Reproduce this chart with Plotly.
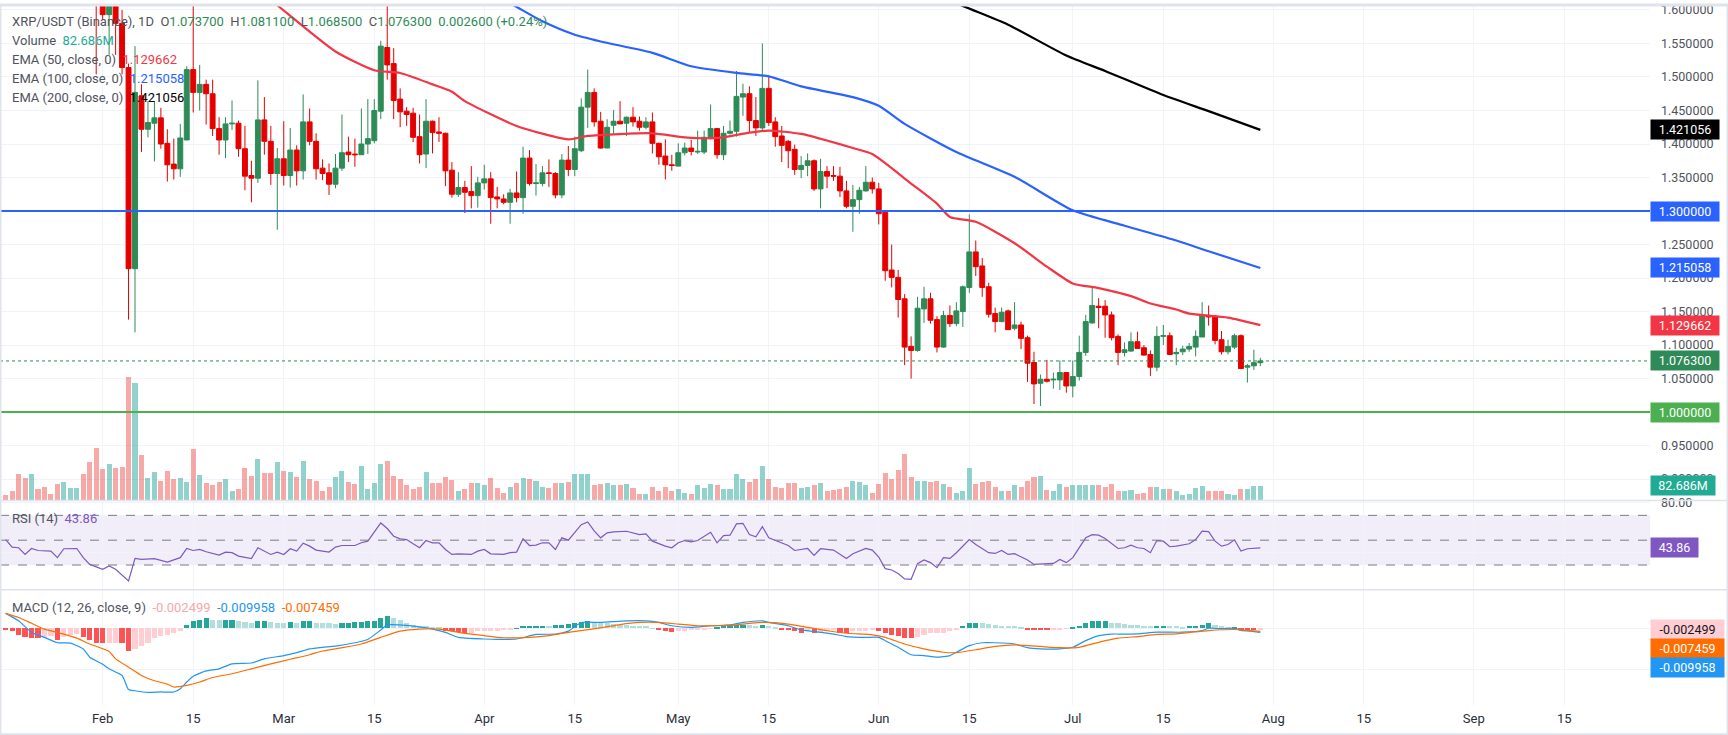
import numpy as np
import pandas as pd
import plotly.graph_objects as go

# ---------------- data (XRP/USDT 1D, Binance) ----------------
YEAR = "2025-"
dates = pd.date_range("2025-01-17", "2025-07-30", freq="D")

opens = [
    1.975, 1.950, 1.920, 1.880, 1.840, 1.870, 1.840, 1.810, 1.800, 1.775, 1.800, 1.820, 1.840, 1.790, 1.730,
    1.680, 1.593, 1.650, 1.580, 1.514, 1.214, 1.472, 1.422, 1.431, 1.439, 1.401, 1.370, 1.363, 1.406, 1.511,
    1.477, 1.489, 1.475, 1.423, 1.406, 1.430, 1.431, 1.393, 1.353, 1.349, 1.436, 1.404, 1.356,
    1.378, 1.353, 1.391, 1.360, 1.433, 1.404, 1.364, 1.357, 1.340, 1.364, 1.388, 1.385, 1.384, 1.400, 1.405,
    1.449, 1.544, 1.520, 1.467, 1.449, 1.446, 1.411, 1.385, 1.434, 1.418, 1.416, 1.361, 1.325, 1.335, 1.329, 1.323,
    1.342, 1.348, 1.321, 1.318, 1.313, 1.327, 1.320, 1.379, 1.341, 1.341, 1.357, 1.356, 1.324, 1.376, 1.362,
    1.390, 1.455, 1.477, 1.434, 1.394, 1.428, 1.434, 1.431, 1.440, 1.434, 1.425, 1.433, 1.401, 1.382, 1.369,
    1.367, 1.387, 1.394, 1.388, 1.388, 1.408, 1.423, 1.384, 1.416, 1.419, 1.470, 1.475, 1.435, 1.424, 1.483,
    1.433, 1.412, 1.404, 1.392, 1.362, 1.368, 1.375, 1.333, 1.359, 1.353, 1.352, 1.330, 1.307, 1.317, 1.330, 1.343,
    1.333, 1.298, 1.212, 1.201, 1.169, 1.098, 1.092, 1.154, 1.169, 1.138, 1.097, 1.144, 1.132, 1.150, 1.186,
    1.239, 1.218, 1.187, 1.147, 1.135, 1.151, 1.125, 1.130, 1.111, 1.074, 1.043, 1.049, 1.048, 1.048, 1.059,
    1.039, 1.053, 1.089, 1.133, 1.158, 1.158, 1.145, 1.113, 1.089, 1.091, 1.105, 1.096, 1.086, 1.067, 1.113,
    1.114, 1.087, 1.090, 1.094, 1.097, 1.112, 1.144, 1.143, 1.108, 1.090, 1.097, 1.114, 1.067, 1.069, 1.0737,
]
highs = [
    1.990, 1.965, 1.935, 1.900, 1.890, 1.880, 1.850, 1.830, 1.815, 1.810, 1.835, 1.850, 1.845, 1.800, 1.745,
    1.700, 1.680, 1.670, 1.600, 1.520, 1.546, 1.489, 1.464, 1.464, 1.454, 1.422, 1.408, 1.430, 1.516, 1.625,
    1.518, 1.496, 1.496, 1.440, 1.440, 1.465, 1.435, 1.427, 1.375, 1.495, 1.470, 1.427, 1.394,
    1.434, 1.424, 1.398, 1.474, 1.453, 1.416, 1.377, 1.371, 1.385, 1.444, 1.411, 1.408, 1.453, 1.467, 1.467,
    1.554, 1.620, 1.543, 1.483, 1.455, 1.454, 1.444, 1.467, 1.435, 1.440, 1.417, 1.373, 1.358, 1.345, 1.367, 1.351,
    1.369, 1.358, 1.336, 1.325, 1.333, 1.359, 1.396, 1.391, 1.370, 1.367, 1.377, 1.358, 1.385, 1.397, 1.411,
    1.468, 1.511, 1.483, 1.448, 1.437, 1.451, 1.464, 1.441, 1.455, 1.441, 1.440, 1.447, 1.402, 1.407, 1.384,
    1.401, 1.402, 1.406, 1.420, 1.420, 1.459, 1.424, 1.427, 1.435, 1.509, 1.490, 1.486, 1.470, 1.550, 1.502,
    1.440, 1.427, 1.406, 1.399, 1.382, 1.386, 1.377, 1.378, 1.367, 1.367, 1.366, 1.345, 1.339, 1.336, 1.367, 1.350,
    1.342, 1.298, 1.250, 1.212, 1.176, 1.113, 1.172, 1.187, 1.178, 1.143, 1.151, 1.159, 1.164, 1.189, 1.295,
    1.256, 1.230, 1.193, 1.156, 1.156, 1.153, 1.164, 1.135, 1.114, 1.090, 1.056, 1.078, 1.059, 1.077, 1.059,
    1.077, 1.114, 1.145, 1.187, 1.170, 1.167, 1.150, 1.116, 1.104, 1.119, 1.120, 1.100, 1.092, 1.128, 1.130,
    1.119, 1.096, 1.099, 1.103, 1.122, 1.164, 1.159, 1.145, 1.121, 1.108, 1.117, 1.116, 1.072, 1.093, 1.0811,
]
lows = [
    1.935, 1.905, 1.860, 1.820, 1.825, 1.830, 1.800, 1.790, 1.760, 1.765, 1.785, 1.805, 1.780, 1.715, 1.504,
    1.585, 1.533, 1.533, 1.504, 1.138, 1.119, 1.388, 1.410, 1.374, 1.393, 1.344, 1.347, 1.351, 1.406, 1.447,
    1.450, 1.429, 1.412, 1.384, 1.379, 1.421, 1.381, 1.331, 1.313, 1.342, 1.384, 1.339, 1.272,
    1.338, 1.335, 1.338, 1.347, 1.398, 1.347, 1.346, 1.324, 1.334, 1.360, 1.373, 1.366, 1.384, 1.385, 1.401,
    1.437, 1.496, 1.437, 1.425, 1.427, 1.403, 1.371, 1.364, 1.386, 1.403, 1.337, 1.320, 1.321, 1.297, 1.304, 1.305,
    1.332, 1.281, 1.304, 1.310, 1.281, 1.313, 1.296, 1.338, 1.323, 1.337, 1.336, 1.319, 1.319, 1.352, 1.352,
    1.388, 1.424, 1.426, 1.393, 1.394, 1.415, 1.430, 1.412, 1.426, 1.420, 1.422, 1.386, 1.369, 1.347, 1.360,
    1.367, 1.383, 1.383, 1.385, 1.385, 1.407, 1.378, 1.376, 1.414, 1.411, 1.442, 1.418, 1.412, 1.419, 1.427,
    1.396, 1.373, 1.364, 1.354, 1.349, 1.352, 1.330, 1.304, 1.334, 1.345, 1.321, 1.304, 1.269, 1.296, 1.329, 1.326,
    1.280, 1.196, 1.186, 1.141, 1.070, 1.050, 1.090, 1.133, 1.132, 1.089, 1.096, 1.127, 1.128, 1.127, 1.178,
    1.203, 1.172, 1.141, 1.119, 1.134, 1.123, 1.122, 1.094, 1.045, 1.012, 1.009, 1.044, 1.035, 1.033, 1.029,
    1.022, 1.047, 1.084, 1.132, 1.125, 1.111, 1.107, 1.070, 1.083, 1.090, 1.095, 1.084, 1.054, 1.061, 1.100,
    1.085, 1.070, 1.085, 1.090, 1.083, 1.112, 1.129, 1.101, 1.086, 1.086, 1.094, 1.064, 1.044, 1.063, 1.0685,
]
closes = [
    1.950, 1.920, 1.880, 1.840, 1.870, 1.840, 1.810, 1.800, 1.775, 1.800, 1.820, 1.840, 1.790, 1.730, 1.680,
    1.593, 1.650, 1.580, 1.514, 1.214, 1.477, 1.422, 1.432, 1.439, 1.400, 1.369, 1.363, 1.409, 1.511, 1.477,
    1.489, 1.475, 1.423, 1.406, 1.430, 1.431, 1.393, 1.352, 1.349, 1.436, 1.404, 1.356, 1.378,
    1.353, 1.391, 1.360, 1.433, 1.404, 1.363, 1.356, 1.340, 1.364, 1.387, 1.384, 1.384, 1.400, 1.408, 1.450,
    1.546, 1.518, 1.465, 1.448, 1.444, 1.410, 1.384, 1.434, 1.417, 1.416, 1.360, 1.325, 1.335, 1.328, 1.323, 1.342,
    1.348, 1.320, 1.318, 1.313, 1.327, 1.320, 1.379, 1.341, 1.342, 1.357, 1.356, 1.324, 1.376, 1.362, 1.393,
    1.455, 1.477, 1.433, 1.394, 1.425, 1.434, 1.430, 1.440, 1.433, 1.425, 1.433, 1.401, 1.381, 1.369, 1.368,
    1.387, 1.394, 1.389, 1.389, 1.410, 1.423, 1.384, 1.416, 1.419, 1.471, 1.475, 1.435, 1.424, 1.483, 1.432,
    1.411, 1.398, 1.390, 1.362, 1.368, 1.375, 1.333, 1.359, 1.352, 1.352, 1.330, 1.307, 1.317, 1.331, 1.343, 1.333,
    1.296, 1.211, 1.201, 1.168, 1.097, 1.092, 1.155, 1.169, 1.137, 1.097, 1.144, 1.132, 1.151, 1.187, 1.239,
    1.217, 1.186, 1.146, 1.135, 1.149, 1.123, 1.130, 1.110, 1.073, 1.042, 1.049, 1.046, 1.049, 1.059, 1.039,
    1.053, 1.089, 1.135, 1.159, 1.156, 1.145, 1.111, 1.089, 1.093, 1.105, 1.095, 1.085, 1.067, 1.113, 1.114,
    1.086, 1.089, 1.094, 1.098, 1.113, 1.144, 1.142, 1.107, 1.090, 1.098, 1.114, 1.065, 1.069, 1.0737, 1.0763,
]
# volume in millions
volumes = [
    31, 50, 145, 123, 145, 62, 77, 35, 90, 101, 68, 68, 145, 211, 292,
    172, 204, 178, 183, 683, 650, 255, 123, 160, 110, 165, 117, 123, 105, 283,
    139, 95, 87, 105, 121, 55, 62, 178, 134, 231, 154, 154, 215,
    164, 160, 128, 220, 117, 110, 50, 77, 128, 165, 105, 90, 193, 62, 95,
    204, 220, 134, 117, 87, 62, 77, 160, 99, 95, 128, 114, 55, 62, 99, 99,
    87, 127, 68, 44, 72, 99, 127, 121, 109, 77, 68, 99, 99, 105, 149,
    149, 149, 87, 90, 99, 84, 84, 90, 68, 35, 37, 73, 55, 73, 55,
    62, 40, 37, 84, 68, 94, 84, 66, 62, 149, 117, 105, 121, 193, 121,
    72, 68, 99, 99, 68, 77, 84, 99, 55, 59, 62, 77, 110, 105, 84, 44,
    90, 154, 121, 171, 259, 132, 110, 110, 105, 110, 94, 72, 44, 53, 182,
    94, 105, 110, 72, 50, 50, 84, 77, 110, 131, 138, 59, 50, 94, 77,
    87, 87, 84, 87, 84, 77, 90, 50, 53, 59, 37, 40, 72, 77, 66,
    61, 55, 28, 35, 68, 83, 55, 55, 50, 35, 28, 61, 61, 83, 82.686,
]

ema50_days = ["02-20", "02-28", "03-09", "03-15", "03-19", "03-24", "03-27", "03-29", "04-06", "04-14",
              "04-17", "04-27", "05-02", "05-07", "05-12", "05-15", "05-20", "05-28", "05-31", "06-06",
              "06-10", "06-12", "06-16", "06-22", "06-27", "07-01", "07-05", "07-10", "07-13", "07-17",
              "07-19", "07-25", "07-30"]
ema50_vals = [1.670, 1.607, 1.538, 1.510, 1.506, 1.489, 1.478, 1.464, 1.427, 1.407,
              1.412, 1.416, 1.410, 1.409, 1.417, 1.420, 1.415, 1.394, 1.385, 1.341,
              1.311, 1.291, 1.284, 1.252, 1.217, 1.192, 1.185, 1.173, 1.162, 1.153,
              1.147, 1.141, 1.129662]
ema100_days = ["03-25", "04-05", "04-10", "04-15", "04-19", "04-27", "05-03", "05-10", "05-15", "05-20",
               "05-28", "06-01", "06-05", "06-13", "06-22", "07-01", "07-09", "07-17", "07-22", "07-30"]
ema100_vals = [1.665, 1.610, 1.583, 1.563, 1.553, 1.536, 1.516, 1.506, 1.501, 1.486,
               1.470, 1.457, 1.430, 1.388, 1.351, 1.301, 1.278, 1.256, 1.240, 1.215058]
ema200_days = ["06-05", "06-14", "06-21", "06-30", "07-06", "07-15", "07-22", "07-30"]
ema200_vals = [1.644, 1.606, 1.578, 1.532, 1.509, 1.473, 1.449, 1.421056]

rsi_days = [
    "01-17", "01-18", "01-19", "01-20", "01-21", "01-22", "01-24", "01-25", "01-26", "01-28", "01-29", "01-30",
    "02-01", "02-02", "02-03", "02-05", "02-06", "02-07", "02-09", "02-10", "02-11", "02-13", "02-14", "02-15",
    "02-16", "02-17", "02-19", "02-20", "02-21", "02-22", "02-24", "02-25", "02-26", "02-27", "02-28",
    "03-01", "03-02", "03-03", "03-04", "03-05", "03-06", "03-08", "03-09", "03-10", "03-12", "03-13", "03-14",
    "03-16", "03-17", "03-18", "03-19", "03-20", "03-21", "03-22", "03-23", "03-24", "03-25", "03-26", "03-27",
    "03-28", "03-30", "03-31",
    "04-01", "04-02", "04-04", "04-05", "04-06", "04-07", "04-08", "04-09", "04-10", "04-11", "04-12", "04-13",
    "04-14", "04-15", "04-16", "04-17", "04-18", "04-19", "04-20", "04-21", "04-23", "04-25", "04-26", "04-27",
    "04-29", "04-30",
    "05-01", "05-02", "05-03", "05-04", "05-05", "05-06", "05-07", "05-08", "05-09", "05-10", "05-11", "05-12",
    "05-13", "05-14", "05-15", "05-16", "05-17", "05-18", "05-19", "05-21", "05-22", "05-23", "05-25", "05-26",
    "05-27", "05-28", "05-30", "05-31",
    "06-01", "06-02", "06-03", "06-04", "06-05", "06-06", "06-07", "06-08", "06-09", "06-10", "06-11", "06-12",
    "06-13", "06-15", "06-16", "06-18", "06-19", "06-20", "06-21", "06-22", "06-24", "06-25", "06-27", "06-28",
    "06-29", "06-30",
    "07-01", "07-02", "07-03", "07-04", "07-05", "07-06", "07-07", "07-08", "07-09", "07-10", "07-11", "07-12",
    "07-13", "07-14", "07-15", "07-16", "07-17", "07-19", "07-20", "07-21", "07-22", "07-23", "07-24", "07-25",
    "07-26", "07-27", "07-28", "07-30",
]
rsi_vals = [
    50.5, 44.4, 43.9, 38.5, 43.3, 41.7, 41.2, 35.9, 43.1, 43.3, 35.9, 30.5,
    26.5, 29.2, 26.5, 17.2, 35.3, 34.5, 35.1, 33.7, 32.4, 35.9, 43.3, 41.7,
    42.5, 40.7, 38.0, 40.4, 39.9, 37.2, 35.1, 43.9, 41.2, 38.5, 40.4,
    38.5, 43.1, 41.2, 47.6, 45.2, 42.0, 40.4, 44.4, 45.7, 45.7, 47.9, 49.2,
    63.9, 59.4, 53.2, 51.1, 50.5, 47.1, 43.9, 49.7, 47.9, 47.9, 42.5, 38.5,
    39.0, 38.5, 41.2,
    42.5, 39.0, 38.5, 39.9, 40.4, 51.1, 45.7, 46.0, 47.9, 47.9, 42.5, 51.9,
    50.0, 55.9, 62.5, 64.7, 57.5, 51.9, 55.9, 56.7, 57.2, 54.5, 55.1, 49.2,
    45.2, 43.9,
    47.9, 49.7, 48.7, 49.7, 53.2, 56.4, 47.9, 53.7, 54.0, 63.1, 63.6, 54.5,
    52.7, 60.9, 51.9, 49.7, 47.9, 45.7, 41.7, 43.3, 37.7, 43.1, 42.0, 38.5,
    35.3, 39.1, 43.3, 42.0,
    36.4, 27.1, 26.0, 23.1, 18.8, 18.5, 31.1, 34.0, 31.9, 27.9, 35.9, 35.3,
    39.9, 50.5, 46.5, 39.9, 39.3, 41.7, 38.5, 39.1, 34.0, 30.5, 31.1, 31.3,
    34.5, 31.9,
    35.9, 43.9, 51.9, 54.5, 54.0, 51.3, 47.1, 43.3, 43.9, 46.0, 43.9, 43.3,
    39.9, 49.7, 49.2, 44.7, 45.2, 47.1, 50.5, 57.2, 56.9, 49.2, 45.2, 46.5,
    50.3, 41.2, 43.1, 43.86,
]

macd_days = ["01-17", "01-19", "01-21", "01-23", "01-25", "01-27", "01-29", "01-30", "02-01", "02-02",
             "02-04", "02-05", "02-06", "02-08", "02-10", "02-12", "02-13", "02-14", "02-15", "02-17",
             "02-19", "02-21", "02-24", "02-26", "03-01", "03-03", "03-05", "03-07", "03-09", "03-12",
             "03-14", "03-16", "03-17", "03-19", "03-21", "03-24", "03-26", "03-28", "04-01", "04-03",
             "04-06", "04-09", "04-12", "04-14", "04-16", "04-19", "04-23", "04-26", "04-28", "04-30",
             "05-03", "05-06", "05-09", "05-11", "05-14", "05-15", "05-18", "05-20", "05-23", "05-25",
             "05-27", "05-30", "06-01", "06-02", "06-04", "06-06", "06-08", "06-10", "06-12", "06-13",
             "06-15", "06-17", "06-19", "06-22", "06-24", "06-26", "06-29", "07-01", "07-03", "07-05",
             "07-07", "07-09", "07-11", "07-14", "07-18", "07-21", "07-22", "07-24", "07-26", "07-27",
             "07-29", "07-30"]
macd_vals = [0.036, 0.018, -0.010, -0.022, -0.035, -0.036, -0.050, -0.070, -0.087, -0.098,
             -0.114, -0.148, -0.151, -0.155, -0.154, -0.154, -0.146, -0.130, -0.116, -0.103,
             -0.098, -0.086, -0.084, -0.074, -0.066, -0.059, -0.050, -0.046, -0.043, -0.035,
             -0.027, -0.004, 0.008, 0.008, 0.005, -0.002, -0.010, -0.022, -0.026, -0.027,
             -0.026, -0.015, -0.014, -0.007, 0.014, 0.014, 0.018, 0.018, 0.014, 0.006,
             0.002, 0.006, 0.008, 0.014, 0.018, 0.014, 0.006, -0.004, -0.010, -0.014,
             -0.020, -0.022, -0.022, -0.030, -0.046, -0.064, -0.066, -0.070, -0.066, -0.058,
             -0.042, -0.035, -0.035, -0.038, -0.047, -0.050, -0.050, -0.046, -0.030, -0.018,
             -0.014, -0.014, -0.0135, -0.0095, -0.0095, -0.0055, 0.000, -0.001, 0.000, -0.005,
             -0.008, -0.009958]
signal_days = ["01-17", "01-19", "01-21", "01-23", "01-26", "01-28", "01-30", "02-02", "02-03", "02-05",
               "02-07", "02-09", "02-11", "02-12", "02-14", "02-16", "02-18", "02-21", "02-24", "02-27",
               "03-02", "03-05", "03-07", "03-10", "03-13", "03-16", "03-19", "03-22", "03-25", "03-28",
               "04-01", "04-04", "04-08", "04-11", "04-14", "04-19", "04-22", "04-25", "04-28", "05-01",
               "05-04", "05-07", "05-10", "05-12", "05-15", "05-18", "05-21", "05-24", "05-27", "05-31",
               "06-02", "06-05", "06-08", "06-11", "06-13", "06-16", "06-19", "06-22", "06-26", "06-29",
               "07-02", "07-05", "07-08", "07-11", "07-14", "07-17", "07-22", "07-26", "07-28", "07-30"]
signal_vals = [0.036, 0.026, 0.012, -0.002, -0.014, -0.024, -0.038, -0.056, -0.074, -0.094,
               -0.114, -0.127, -0.135, -0.142, -0.138, -0.130, -0.119, -0.110, -0.098, -0.086,
               -0.075, -0.064, -0.055, -0.047, -0.038, -0.022, -0.007, -0.002, -0.002, -0.010,
               -0.018, -0.023, -0.022, -0.018, -0.010, 0.001, 0.009, 0.014, 0.014, 0.010,
               0.006, 0.006, 0.008, 0.012, 0.014, 0.010, 0.002, -0.006, -0.012, -0.016,
               -0.022, -0.038, -0.050, -0.058, -0.059, -0.052, -0.044, -0.040, -0.044, -0.047,
               -0.046, -0.034, -0.024, -0.020, -0.015, -0.0135, -0.0055, -0.003, -0.005, -0.007459]
# daily MACD histogram
hist_vals = [
    -0.004, -0.007, -0.016, -0.021, -0.023, -0.024, -0.022, -0.018, -0.027, -0.020, -0.016, -0.014, -0.020,
    -0.028, -0.035, -0.036, -0.035, -0.034, -0.036, -0.055, -0.050, -0.042, -0.034, -0.023, -0.018, -0.016,
    -0.012, -0.006,
    0.009, 0.018, 0.021, 0.026, 0.021, 0.020, 0.021, 0.0215, 0.018, 0.016, 0.014, 0.017, 0.018, 0.016,
    0.014, 0.0135, 0.016, 0.014, 0.018, 0.0185, 0.014, 0.013, 0.012, 0.0115, 0.013, 0.014, 0.0145, 0.016,
    0.017, 0.018, 0.026, 0.029, 0.026, 0.021, 0.014, 0.008, 0.006, 0.005, 0.0045, 0.004,
    -0.006, -0.007, -0.008, -0.0105, -0.010, -0.007, -0.0068, -0.006, -0.0058, -0.004, -0.0038, 0.001,
    0.005, 0.0052, 0.006, 0.0062, 0.006, 0.009, 0.0092, 0.010, 0.012,
    0.016, 0.018, 0.014, 0.013, 0.012, 0.0115, 0.009, 0.0085, 0.006, 0.0055, 0.005, 0.001, -0.004, -0.006,
    -0.008, -0.007, -0.006, -0.0045, -0.004, -0.002, -0.0005, 0.002, 0.005, 0.008, 0.009, 0.0095, 0.008,
    0.006, 0.009, 0.006, 0.002,
    -0.002, -0.004, -0.007, -0.010, -0.007, -0.011, -0.010, -0.007, -0.004, -0.010, -0.0105, -0.007,
    -0.0068, -0.006, -0.004, -0.007, -0.012, -0.016, -0.018, -0.022, -0.023, -0.020, -0.015, -0.012,
    -0.011, -0.010, -0.007, -0.004,
    0.005, 0.013, 0.014, 0.0138, 0.010, 0.009, 0.0065, 0.006, 0.005, 0.002, -0.002, -0.004, -0.0042,
    -0.0044, -0.004, -0.002, -0.0005, 0.002, 0.005, 0.012, 0.017, 0.018, 0.0182, 0.014, 0.013, 0.010,
    0.009, 0.008,
    0.006, 0.005, 0.006, 0.007, 0.006, 0.005, 0.004, 0.005, 0.007, 0.009, 0.012, 0.009, 0.006, 0.004,
    0.0045, -0.004, -0.0042, -0.0045, -0.002499,
]

level_blue = 1.30
level_green = 1.00

tick_days = ["2025-02-01", "2025-02-15", "2025-03-01", "2025-03-15", "2025-04-01", "2025-04-15",
             "2025-05-01", "2025-05-15", "2025-06-01", "2025-06-15", "2025-07-01", "2025-07-15",
             "2025-08-01", "2025-08-15", "2025-09-01", "2025-09-15"]
tick_names = ["Feb", "15", "Mar", "15", "Apr", "15", "May", "15", "Jun", "15", "Jul", "15",
              "Aug", "15", "Sep", "15"]

# ---------------- styling ----------------
UP = "#2e8b57"
DOWN = "#e50000"
VOL_UP = "rgba(38,166,154,0.5)"
VOL_DN = "rgba(239,83,80,0.5)"
EMA50_C = "#f23645"
EMA100_C = "#2962ff"
EMA200_C = "#000000"
RSI_C = "#7e57c2"
MACD_C = "#2196f3"
SIG_C = "#ff6d00"
GRID = "#f0f3fa"
TXT = "#50535e"
FONT = "Roboto, Arial, sans-serif"
DAY = 86400000

W, H = 1728, 735
ML, MR, MT, MB = 0, 78, 0, 30
PH = H - MT - MB
main_dom = [1 - 499 / PH, 1.0]
rsi_dom = [1 - 589 / PH, 1 - 499 / PH]
macd_dom = [0.0, 1 - 589 / PH]
x_right = (W - ML) / (W - ML - MR)


def full(days):
    return [YEAR + d for d in days]


fig = go.Figure()

vol_colors = [VOL_UP if c >= o else VOL_DN for o, c in zip(opens, closes)]
fig.add_trace(go.Bar(x=dates, y=volumes, marker_color=vol_colors, marker_line_width=0,
                     width=DAY * 0.78, xaxis="x", yaxis="y", hoverinfo="skip"))

fig.add_trace(go.Candlestick(
    x=dates, open=opens, high=highs, low=lows, close=closes, xaxis="x", yaxis="y2",
    increasing=dict(line=dict(color=UP, width=1), fillcolor=UP),
    decreasing=dict(line=dict(color=DOWN, width=1), fillcolor=DOWN),
    whiskerwidth=0, hoverinfo="skip"))

for d, v, c in [(ema50_days, ema50_vals, EMA50_C), (ema100_days, ema100_vals, EMA100_C),
                (ema200_days, ema200_vals, EMA200_C)]:
    fig.add_trace(go.Scatter(x=full(d), y=v, mode="lines", xaxis="x", yaxis="y2",
                             line=dict(color=c, width=2.2, shape="spline", smoothing=0.6),
                             hoverinfo="skip"))

fig.add_trace(go.Scatter(x=full(rsi_days), y=rsi_vals, mode="lines", xaxis="x", yaxis="y3",
                         line=dict(color=RSI_C, width=1.2), hoverinfo="skip"))

hist_colors = []
for i, h in enumerate(hist_vals):
    prev = hist_vals[i - 1] if i else h
    if h >= 0:
        hist_colors.append("#26a69a" if h > prev else "#b2dfdb")
    else:
        hist_colors.append("#ffcdd2" if h > prev else "#ff5252")
fig.add_trace(go.Bar(x=dates, y=hist_vals, marker_color=hist_colors, marker_line_width=0,
                     width=DAY * 0.8, xaxis="x", yaxis="y4", hoverinfo="skip"))
fig.add_trace(go.Scatter(x=full(macd_days), y=macd_vals, mode="lines", xaxis="x", yaxis="y4",
                         line=dict(color=MACD_C, width=1.2, shape="spline", smoothing=0.5),
                         hoverinfo="skip"))
fig.add_trace(go.Scatter(x=full(signal_days), y=signal_vals, mode="lines", xaxis="x", yaxis="y4",
                         line=dict(color=SIG_C, width=1.2, shape="spline", smoothing=0.5),
                         hoverinfo="skip"))

# ---------------- shapes ----------------
shapes = [
    dict(type="rect", xref="paper", x0=0, x1=1, yref="y3", y0=30, y1=70,
         fillcolor="rgba(126,87,194,0.1)", line_width=0, layer="below"),
]
for lvl in (70, 50, 30):
    shapes.append(dict(type="line", xref="paper", x0=0, x1=1, yref="y3", y0=lvl, y1=lvl,
                       line=dict(color="#787b86", width=1, dash="dash"), layer="above"))
shapes += [
    dict(type="line", xref="paper", x0=0, x1=1, yref="y2", y0=level_blue, y1=level_blue,
         line=dict(color="#2962ff", width=2), layer="above"),
    dict(type="line", xref="paper", x0=0, x1=1, yref="y2", y0=level_green, y1=level_green,
         line=dict(color="#4caf50", width=2), layer="above"),
    dict(type="line", xref="paper", x0=0, x1=1, yref="y2", y0=closes[-1], y1=closes[-1],
         line=dict(color=UP, width=1, dash="dot"), layer="above"),
    dict(type="line", xref="paper", x0=0, x1=x_right, yref="paper", y0=main_dom[0], y1=main_dom[0],
         line=dict(color="#e0e3eb", width=1.5), layer="above"),
    dict(type="line", xref="paper", x0=0, x1=x_right, yref="paper", y0=rsi_dom[0], y1=rsi_dom[0],
         line=dict(color="#e0e3eb", width=1.5), layer="above"),
    dict(type="rect", xref="paper", x0=0, x1=x_right, yref="paper", y0=-MB / PH, y1=1,
         line=dict(color="#e0e3eb", width=3), layer="above"),
]

# ---------------- annotations ----------------
ann = []


def legend_line(text, ypx, xpx=10):
    ann.append(dict(xref="paper", yref="paper", x=xpx / (W - MR), y=1 - ypx / PH, xanchor="left",
                    yanchor="middle", text=text, showarrow=False, font=dict(size=13, color=TXT, family=FONT)))


def col(v, c):
    return f'<span style="color:{c}">{v}</span>'


chg = closes[-1] - closes[-2]
pct = chg / closes[-2] * 100
sp = "&nbsp;&nbsp;"
legend_line("XRP/USDT (Binance), 1D" + sp + "O" + col(f"{opens[-1]:.6f}", UP) + sp + "H" + col(f"{highs[-1]:.6f}", UP)
            + sp + "L" + col(f"{lows[-1]:.6f}", UP) + sp + "C" + col(f"{closes[-1]:.6f}", UP) + sp
            + col(f"{chg:.6f} ({pct:+.2f}%)", UP), 17)
legend_line("Volume&nbsp;&nbsp;" + col(f"{volumes[-1]:.3f}M", "#22ab94"), 36)
legend_line("EMA (50, close, 0)&nbsp;&nbsp;" + col(f"{ema50_vals[-1]:.6f}", EMA50_C), 55)
legend_line("EMA (100, close, 0)&nbsp;&nbsp;" + col(f"{ema100_vals[-1]:.6f}", EMA100_C), 74)
legend_line("EMA (200, close, 0)&nbsp;&nbsp;" + col(f"{ema200_vals[-1]:.6f}", EMA200_C), 93)
legend_line("RSI (14)&nbsp;&nbsp;" + col(f"{rsi_vals[-1]:.2f}", RSI_C), 517)
legend_line("MACD (12, 26, close, 9)&nbsp;&nbsp;" + col(f"{hist_vals[-1]:.6f}", "#f7a8a8") + "&nbsp;&nbsp;"
            + col(f"{macd_vals[-1]:.6f}", MACD_C) + "&nbsp;&nbsp;" + col(f"{signal_vals[-1]:.6f}", SIG_C), 607)


def side_label(text, yref, y, bg, fg="white", width=64, yshift=0):
    ann.append(dict(xref="paper", x=1.0, xanchor="left", yref=yref, y=y, yanchor="middle", yshift=yshift,
                    text=text, showarrow=False, bgcolor=bg, width=width, height=15, borderpad=2,
                    font=dict(size=12.5, color=fg, family=FONT)))


side_label(f"{ema200_vals[-1]:.6f}", "y2", ema200_vals[-1], "#000000")
side_label(f"{level_blue:.6f}", "y2", level_blue, "#2962ff")
side_label(f"{ema100_vals[-1]:.6f}", "y2", ema100_vals[-1], "#2962ff")
side_label(f"{ema50_vals[-1]:.6f}", "y2", ema50_vals[-1], EMA50_C)
side_label(f"{closes[-1]:.6f}", "y2", closes[-1], UP)
side_label(f"{level_green:.6f}", "y2", level_green, "#4caf50")
side_label(f"{volumes[-1]:.3f}M", "y", volumes[-1], "#22ab94", width=60)
side_label(f"{rsi_vals[-1]:.2f}", "y3", rsi_vals[-1], RSI_C, width=43)
side_label(f"{hist_vals[-1]:.6f}", "y4", hist_vals[-1], "#ffcdd2", fg="#131722", width=69)
side_label(f"{signal_vals[-1]:.6f}", "y4", hist_vals[-1], SIG_C, width=69, yshift=-19)
side_label(f"{macd_vals[-1]:.6f}", "y4", hist_vals[-1], MACD_C, width=69, yshift=-38)

price_ticks = [round(v, 2) for v in np.arange(0.90, 1.6001, 0.05)]
tickfont = dict(size=12.5, color=TXT, family=FONT)

fig.update_layout(
    width=W, height=H, margin=dict(l=ML, r=MR, t=MT, b=MB),
    paper_bgcolor="white", plot_bgcolor="white", showlegend=False,
    barmode="overlay", bargap=0, boxgap=0.2, boxgroupgap=0.05,
    font=dict(family=FONT, color=TXT),
    xaxis=dict(domain=[0, 1], anchor="y4", type="date",
               range=["2025-01-16 03:00", "2025-09-28 06:00"],
               tickvals=tick_days, ticktext=tick_names, showgrid=True, gridcolor=GRID, gridwidth=1,
               zeroline=False, showline=False, ticks="", tickfont=dict(size=13, color="#2a2e39", family=FONT),
               ticklabelstandoff=4, rangeslider=dict(visible=False), fixedrange=True),
    yaxis=dict(domain=main_dom, range=[0, 2750], visible=False, fixedrange=True),
    yaxis2=dict(overlaying="y", anchor="x", side="right", range=[0.86815, 1.6074],
                tickvals=price_ticks, tickformat=".6f", showgrid=True, gridcolor=GRID,
                zeroline=False, showline=False, ticks="", tickfont=tickfont, ticklabelstandoff=10,
                fixedrange=True),
    # the 40 gridline's label sits under the RSI value tag, so only 80.00 is written
    yaxis3=dict(domain=rsi_dom, anchor="x", side="right", range=[10, 82], tickvals=[40, 80],
                ticktext=["", "80.00"], showgrid=True, gridcolor=GRID, zeroline=False,
                showline=False, ticks="", tickfont=tickfont, ticklabelstandoff=10, fixedrange=True),
    yaxis4=dict(domain=macd_dom, anchor="x", side="right", range=[-0.1855, 0.0929], tickvals=[0, -0.1],
                showticklabels=False, showgrid=True, gridcolor=GRID, zeroline=False, showline=False,
                ticks="", fixedrange=True),
    shapes=shapes, annotations=ann,
)

fig.write_html("out.html", config={"displayModeBar": False},
               post_script="document.body.style.margin='0';document.body.style.overflow='hidden';")
